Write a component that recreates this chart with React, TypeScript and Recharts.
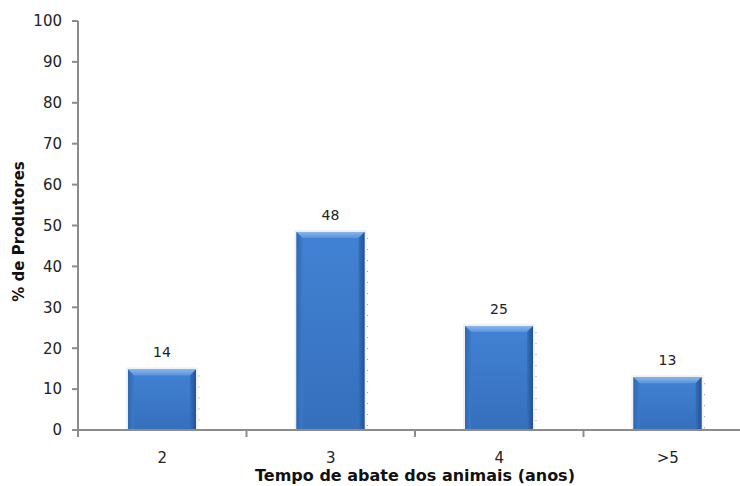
import React from "react";
import { Bar, BarChart, Label, LabelList, XAxis, YAxis } from "recharts";

const categories = ["2", "3", "4", ">5"];
const producerShare = [14.8, 48.4, 25.4, 12.9];
const valueLabels = ["14", "48", "25", "13"];
const yTicks = [0, 10, 20, 30, 40, 50, 60, 70, 80, 90, 100];

const AXIS_GRAY = "#8c8c8c";
const FONT = "'DejaVu Sans', sans-serif";

const rows = categories.map((cat, i) => ({
  cat,
  value: producerShare[i],
  label: valueLabels[i],
}));

function GlossyBar(props: any) {
  const { x, y, width, height } = props;
  if (!height || height <= 0) return null;
  const b = Math.min(6, height / 2);
  return (
    <g>
      <rect x={x - 2} y={y - 2} width={width + 4} height={height + 2} fill="#f0f0f0" />
      <line
        x1={x + width + 3}
        x2={x + width + 3}
        y1={y + 6}
        y2={y + height}
        stroke="#9a9a9a"
        strokeDasharray="1 10"
      />
      <rect x={x} y={y} width={width} height={height} fill="url(#barBody)" />
      <polygon
        points={`${x},${y} ${x + width},${y} ${x + width - b},${y + b} ${x + b},${y + b}`}
        fill="url(#barTop)"
      />
      <polygon
        points={`${x},${y} ${x + b},${y + b} ${x + b},${y + height} ${x},${y + height}`}
        fill="url(#barLeft)"
      />
      <polygon
        points={`${x + width},${y} ${x + width - b},${y + b} ${x + width - b},${y + height} ${x + width},${y + height}`}
        fill="url(#barRight)"
      />
    </g>
  );
}

function CategoryTick(props: any) {
  const { x, y, payload, index } = props;
  const half = payload?.offset ?? 0;
  return (
    <g>
      {index === 0 && (
        <line x1={x - half} x2={x - half} y1={y} y2={y + 7} stroke={AXIS_GRAY} strokeWidth={2} />
      )}
      <line x1={x + half} x2={x + half} y1={y} y2={y + 7} stroke={AXIS_GRAY} strokeWidth={2} />
      <text
        x={x}
        y={y + 33}
        textAnchor="middle"
        fontSize={15}
        fontFamily={FONT}
        fill="#222"
      >
        {payload.value}
      </text>
    </g>
  );
}

function YTitle(props: any) {
  const vb = props.viewBox || {};
  const cx = 19;
  const cy = vb.y + vb.height / 2 + 6;
  return (
    <text
      x={cx}
      y={cy}
      transform={`rotate(-90, ${cx}, ${cy})`}
      textAnchor="middle"
      dominantBaseline="central"
      fontSize={15}
      fontWeight="bold"
      fontFamily={FONT}
      fill="#111"
    >
      % de Produtores
    </text>
  );
}

function XTitle(props: any) {
  const vb = props.viewBox || {};
  return (
    <text
      x={vb.x + vb.width / 2}
      y={vb.y + 51}
      textAnchor="middle"
      fontSize={16}
      fontWeight="bold"
      fontFamily={FONT}
      fill="#111"
    >
      Tempo de abate dos animais (anos)
    </text>
  );
}

export default function App() {
  return (
    <div
      style={{
        position: "absolute",
        left: 0,
        top: 0,
        width: 740,
        height: 486,
        overflow: "hidden",
        background: "#fff",
      }}
    >
      <BarChart
        width={752}
        height={486}
        data={rows}
        margin={{ top: 21, right: 0, bottom: 0, left: 0 }}
      >
        <defs>
          <linearGradient id="barBody" x1="0" y1="0" x2="0" y2="1">
            <stop offset="0%" stopColor="#4282d4" />
            <stop offset="100%" stopColor="#356fbc" />
          </linearGradient>
          <linearGradient id="barTop" x1="0" y1="0" x2="0" y2="1">
            <stop offset="0%" stopColor="#86b6ec" />
            <stop offset="100%" stopColor="#5a93da" />
          </linearGradient>
          <linearGradient id="barLeft" x1="0" y1="0" x2="1" y2="0">
            <stop offset="0%" stopColor="#3068b4" />
            <stop offset="100%" stopColor="#3c7ac9" />
          </linearGradient>
          <linearGradient id="barRight" x1="0" y1="0" x2="1" y2="0">
            <stop offset="0%" stopColor="#3470bf" />
            <stop offset="100%" stopColor="#24528f" />
          </linearGradient>
        </defs>
        <XAxis
          dataKey="cat"
          height={56}
          tickLine={false}
          tickSize={0}
          tickMargin={0}
          axisLine={{ stroke: AXIS_GRAY, strokeWidth: 2 }}
          tick={<CategoryTick />}
          interval={0}
        >
          <Label content={<XTitle />} />
        </XAxis>
        <YAxis
          width={78}
          domain={[0, 100]}
          ticks={yTicks}
          interval={0}
          tickSize={6}
          tickMargin={10}
          axisLine={{ stroke: AXIS_GRAY, strokeWidth: 2 }}
          tickLine={{ stroke: AXIS_GRAY, strokeWidth: 2 }}
          tick={{ fill: "#222", fontSize: 15, fontFamily: FONT }}
        >
          <Label content={<YTitle />} />
        </YAxis>
        <Bar dataKey="value" barSize={68} shape={<GlossyBar />} isAnimationActive={false}>
          <LabelList
            dataKey="label"
            position="top"
            offset={12}
            fontSize={14}
            fontFamily={FONT}
            fill="#222"
          />
        </Bar>
      </BarChart>
    </div>
  );
}
